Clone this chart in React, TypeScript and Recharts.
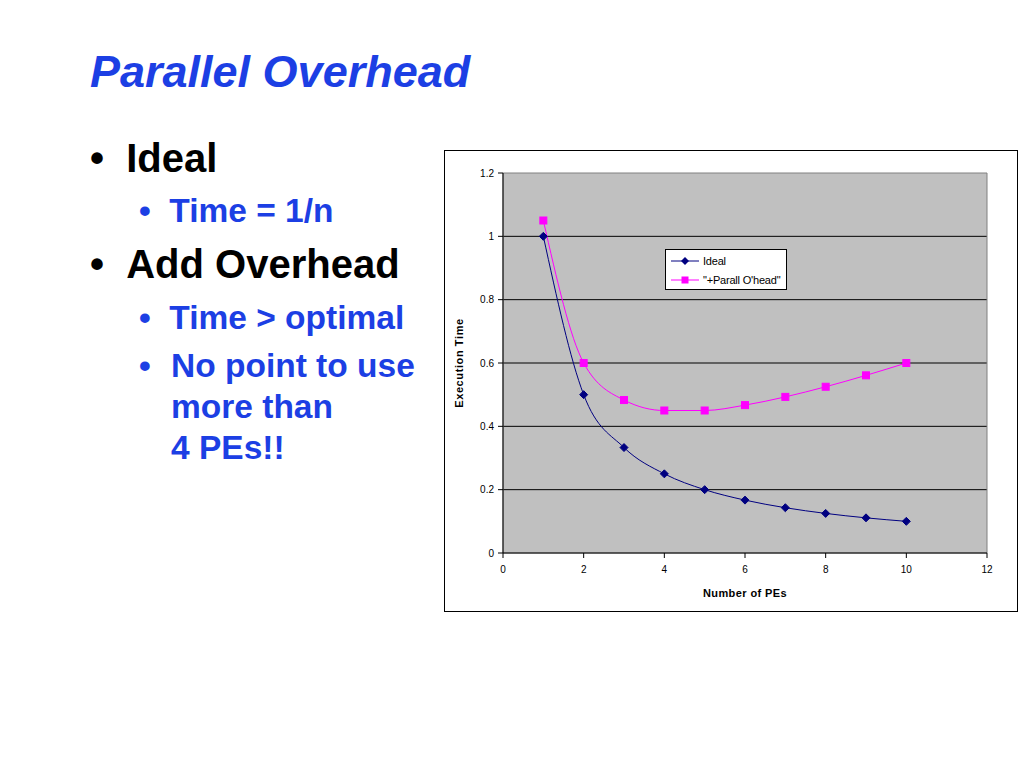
import React from 'react'
import { LineChart, Line, XAxis, YAxis, CartesianGrid, ReferenceArea, Label } from 'recharts'

const pes = [1, 2, 3, 4, 5, 6, 7, 8, 9, 10]
const ideal = [1, 0.5, 0.333, 0.25, 0.2, 0.167, 0.143, 0.125, 0.111, 0.1]
const overhead = [1.05, 0.6, 0.483, 0.45, 0.45, 0.467, 0.493, 0.525, 0.561, 0.6]
const xTicks = [0, 2, 4, 6, 8, 10, 12]
const yTicks = [0, 0.2, 0.4, 0.6, 0.8, 1, 1.2]

const data = pes.map((n, i) => ({ n, ideal: ideal[i], overhead: overhead[i] }))

const FONT = 'Arial, "Liberation Sans", Helvetica, sans-serif'
const BLUE = '#1c3fe4'
const NAVY = '#000080'
const MAGENTA = '#ff00ff'

const Diamond = (props: any) => {
  const { cx, cy } = props
  if (cx == null || cy == null) return null
  return <polygon points={`${cx},${cy - 4} ${cx + 4},${cy} ${cx},${cy + 4} ${cx - 4},${cy}`} fill={NAVY} stroke={NAVY} />
}

const Square = (props: any) => {
  const { cx, cy } = props
  if (cx == null || cy == null) return null
  return <rect x={cx - 3.5} y={cy - 3.5} width={7} height={7} fill={MAGENTA} stroke={MAGENTA} />
}

const LegendBox = () => (
  <div style={{ position: 'absolute', left: 220, top: 98, background: '#fff', border: '1px solid #000', width: 122, height: 41, fontFamily: FONT, fontSize: 11, boxSizing: 'border-box', padding: '1px 0 0 5px', whiteSpace: 'nowrap', letterSpacing: -0.2 }}>
    <div style={{ display: 'flex', alignItems: 'center', height: 19 }}>
      <svg width={28} height={10}><line x1={0} y1={5} x2={28} y2={5} stroke={NAVY} /><polygon points="14,1 18,5 14,9 10,5" fill={NAVY} /></svg>
      <span style={{ marginLeft: 4 }}>Ideal</span>
    </div>
    <div style={{ display: 'flex', alignItems: 'center', height: 19 }}>
      <svg width={28} height={10}><line x1={0} y1={5} x2={28} y2={5} stroke={MAGENTA} /><rect x={10.5} y={1.5} width={7} height={7} fill={MAGENTA} /></svg>
      <span style={{ marginLeft: 4 }}>"+Parall O'head"</span>
    </div>
  </div>
)

const bullet1: React.CSSProperties = { position: 'absolute', fontWeight: 'bold', color: '#000', fontSize: 40, lineHeight: '40px' }
const bullet2: React.CSSProperties = { position: 'absolute', fontWeight: 'bold', color: BLUE, fontSize: 33.5, lineHeight: '41px' }

export default function App() {
  return (
    <div style={{ position: 'absolute', left: 0, top: 0, width: 1024, height: 768, background: '#fff', fontFamily: FONT }}>
      <div style={{ position: 'absolute', left: 90, top: 44, fontSize: 45, fontWeight: 'bold', fontStyle: 'italic', color: BLUE, lineHeight: '56px' }}>
        Parallel Overhead
      </div>
      <div style={{ ...bullet1, left: 90, top: 138 }}>•&nbsp;&nbsp;Ideal</div>
      <div style={{ ...bullet2, left: 139, top: 190 }}>•&nbsp;&nbsp;Time = 1/n</div>
      <div style={{ ...bullet1, left: 90, top: 244 }}>•&nbsp;&nbsp;Add Overhead</div>
      <div style={{ ...bullet2, left: 139, top: 297 }}>•&nbsp;&nbsp;Time &gt; optimal</div>
      <div style={{ ...bullet2, left: 139, top: 345 }}>•</div>
      <div style={{ ...bullet2, left: 171, top: 345 }}>
        No point to use<br />more than<br />4 PEs!!
      </div>

      <div style={{ position: 'absolute', left: 444, top: 150, width: 574, height: 462, border: '1px solid #000', boxSizing: 'border-box', background: '#fff' }}>
        <LineChart width={572} height={460} data={data} margin={{ top: 22, right: 30, left: 0, bottom: 0 }} style={{ fontFamily: FONT }}>
          <CartesianGrid vertical={false} stroke="#000" fill="#c0c0c0" fillOpacity={1} horizontalValues={[0.2, 0.4, 0.6, 0.8, 1]} />
          <ReferenceArea x1={0} x2={12} y1={0} y2={1.2} fill="none" stroke="#808080" ifOverflow="visible" />
          <XAxis type="number" dataKey="n" domain={[0, 12]} ticks={xTicks} height={58} stroke="#000" tickSize={5} tickMargin={8}
            tick={{ fill: '#000', fontSize: 10 }} interval={0}>
            <Label value="Number of PEs" position="insideBottom" offset={14} style={{ fontWeight: 'bold', fontSize: 11, letterSpacing: 0.4, fill: '#000' }} />
          </XAxis>
          <YAxis type="number" domain={[0, 1.2]} ticks={yTicks} width={58} stroke="#000" tickSize={5} tickMargin={4}
            tick={{ fill: '#000', fontSize: 10 }} interval={0}>
            <Label value="Execution Time" angle={-90} position="insideLeft" offset={14} style={{ fontWeight: 'bold', fontSize: 11, letterSpacing: 0.6, fill: '#000', textAnchor: 'middle' }} />
          </YAxis>
          <Line type="monotone" dataKey="ideal" stroke={NAVY} strokeWidth={1} dot={<Diamond />} activeDot={false} isAnimationActive={false} />
          <Line type="monotone" dataKey="overhead" stroke={MAGENTA} strokeWidth={1} dot={<Square />} activeDot={false} isAnimationActive={false} />
        </LineChart>
        <LegendBox />
      </div>
    </div>
  )
}
